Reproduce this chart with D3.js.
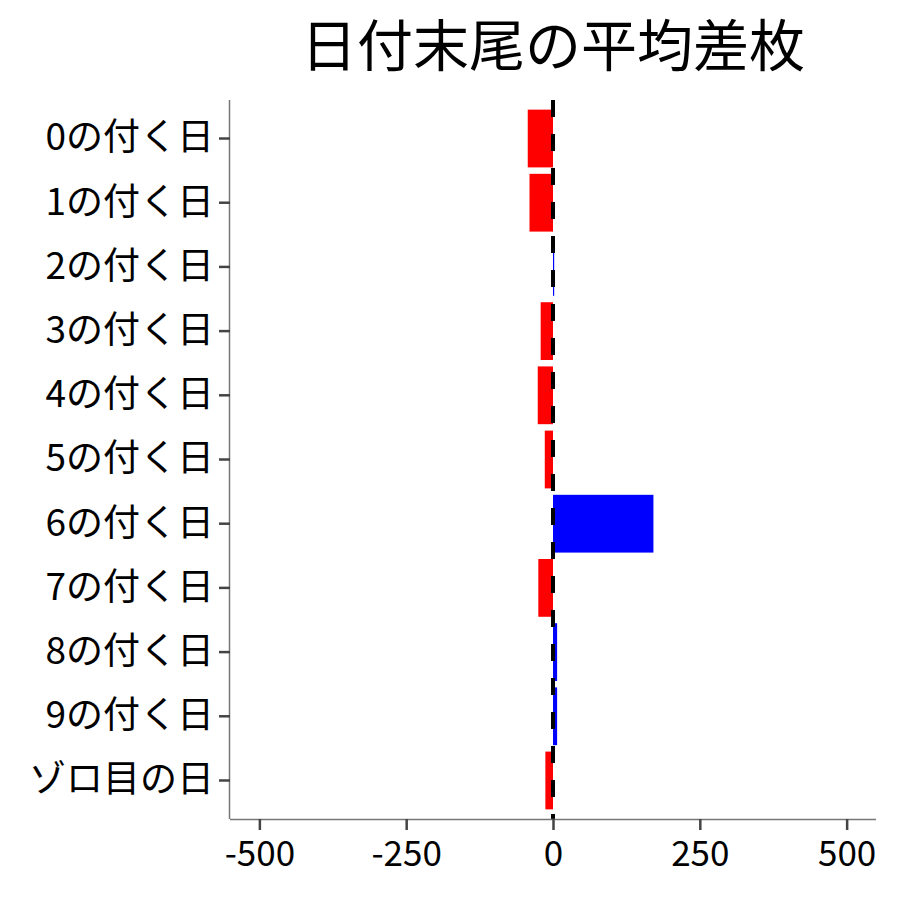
<!DOCTYPE html>
<html>
<head>
<meta charset="utf-8">
<script src="https://cdn.jsdelivr.net/npm/d3@7"></script>
<style>
  body { margin: 0; background: #fff; }
  text { font-family: "Noto Sans CJK JP", "Noto Sans", sans-serif; }
</style>
</head>
<body>
<svg id="chart"></svg>
<script>
const categories = ["0の付く日", "1の付く日", "2の付く日", "3の付く日", "4の付く日",
  "5の付く日", "6の付く日", "7の付く日", "8の付く日", "9の付く日", "ゾロ目の日"];
const avgDiff = [-43, -40, 2, -21, -26, -14, 171, -25, 7, 7, -13];
const xTicks = [-500, -250, 0, 250, 500];
const title = "日付末尾の平均差枚";

const data = categories.map((c, i) => ({ key: c, value: avgDiff[i] }));

const containerWidth = 900, containerHeight = 900;
const margin = { top: 100, right: 24, bottom: 81, left: 230 };
const width = containerWidth - margin.left - margin.right;
const height = containerHeight - margin.top - margin.bottom;

const svg = d3.select("#chart")
  .attr("width", containerWidth)
  .attr("height", containerHeight);

const chart = svg.append("g")
  .attr("transform", `translate(${margin.left},${margin.top})`);

// scales (ggplot-like expansion)
const xScale = d3.scaleLinear().domain([-550, 550]).range([0, width]);
const yScale = d3.scaleBand().domain(categories)
  .range([0, height]).paddingInner(0.1).paddingOuter(0.15);

// bars
chart.selectAll(".bar")
  .data(data)
  .join("rect")
  .attr("class", "bar")
  .attr("x", d => xScale(Math.min(0, d.value)))
  .attr("width", d => Math.abs(xScale(d.value) - xScale(0)))
  .attr("y", d => yScale(d.key))
  .attr("height", yScale.bandwidth())
  .attr("fill", d => d.value < 0 ? "#ff0000" : "#0000ff");

// zero reference line
chart.append("line")
  .attr("x1", xScale(0)).attr("x2", xScale(0))
  .attr("y1", 0).attr("y2", height)
  .attr("stroke", "#000")
  .attr("stroke-width", 4)
  .attr("stroke-dasharray", "17,17");

// axes
const xAxis = d3.axisBottom(xScale).tickValues(xTicks).tickSize(11).tickPadding(6)
  .tickFormat(d => String(d));
const yAxis = d3.axisLeft(yScale).tickSize(11).tickPadding(5);

const xAxisGroup = chart.append("g")
  .attr("transform", `translate(0,${height})`)
  .call(xAxis);
const yAxisGroup = chart.append("g").call(yAxis);

[xAxisGroup, yAxisGroup].forEach(g => {
  g.select(".domain").attr("stroke", "#777").attr("stroke-width", 1.5);
  g.selectAll(".tick line").attr("stroke", "#444").attr("stroke-width", 2.5);
  g.selectAll(".tick text").attr("fill", "#000").style("font-size", "35px");
});
yAxisGroup.selectAll(".tick text").style("font-size", "37px");
// domain without outer ticks
xAxisGroup.select(".domain").attr("d", `M0,0.5H${width}`);
yAxisGroup.select(".domain").attr("d", `M-0.5,0V${height}`);
xAxisGroup.selectAll(".tick text").attr("dy", "0.85em");

// title
svg.append("text")
  .attr("x", margin.left + width / 2)
  .attr("y", 66)
  .attr("text-anchor", "middle")
  .style("font-size", "56px")
  .attr("fill", "#000")
  .text(title);
</script>
</body>
</html>
